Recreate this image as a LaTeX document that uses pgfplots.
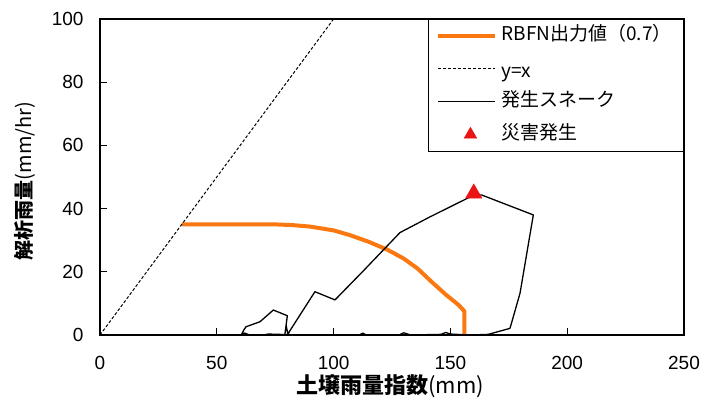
\documentclass[border=0pt]{standalone}
\usepackage{fontspec}
\setmainfont{Liberation Sans}
\newfontfamily\jp{Noto Sans CJK JP}
\usepackage{pgfplots}
\pgfplotsset{compat=1.18}
\definecolor{rbfn}{RGB}{250,120,15}
\definecolor{dred}{RGB}{235,20,20}
\pgfplotsset{
  linelegend/.style={legend image code/.code={\draw[##1] (0pt,0pt) -- (57pt,0pt);}},
  marklegend/.style={legend image code/.code={\draw[mark repeat=2,mark phase=2,##1,mark size=7pt] plot coordinates {(0pt,0pt) (32pt,0pt) (57pt,0pt)};}},
}
\begin{document}
\begin{tikzpicture}
\useasboundingbox (0,0) rectangle (705pt,398pt);
\begin{axis}[
  at={(100pt,63pt)}, anchor=south west, scale only axis,
  width=584pt, height=316pt,
  xmin=0, xmax=250, ymin=0, ymax=100,
  xtick={0,50,100,150,200,250}, ytick={0,20,40,60,80,100},
  tick align=inside, xtick pos=left, ytick pos=left,
  major tick length=7pt,
  axis line style={line width=1.3pt},
  tick style={line width=1pt, black},
  /pgf/number format/assume math mode=true,
  tick label style={font=\fontsize{19}{21}\selectfont},
  xticklabel style={yshift=-18pt},
  yticklabel style={xshift=-13pt},
  xlabel={{\jp\bfseries 土壌雨量指数}{\jp (mm)}},
  ylabel={{\jp\bfseries 解析雨量}{\jp (mm/hr)}},
  every axis x label/.style={at={(axis description cs:0.497,-0.163)}, anchor=center, font=\fontsize{22}{24}\selectfont},
  every axis y label/.style={at={(axis description cs:-0.128,0.487)}, rotate=90, anchor=center, font=\fontsize{20}{22}\selectfont},
  legend style={at={(1,1)}, anchor=north east, draw=black, line width=0.8pt, fill=white,
     inner xsep=8pt, inner ysep=0pt,
     nodes={text height=15pt, text depth=5.5pt, inner ysep=6.2pt, inner xsep=4pt},
     font=\fontsize{19}{21}\selectfont\jp},
  legend cell align=left,
  linelegend,
]
\addplot[rbfn, line width=4pt, line join=round] coordinates {
(35,35) (50,35) (65,35) (75,35) (82,34.8) (90,34.3) (100,33.1) (107,31.6)
(115,29.5) (123,27) (130,24.2) (136,21) (142,16.8) (148,12.8) (153.5,9.5) (156,7.5) (156,0)
};
\addlegendentry{RBFN出力値（0.7）}
\addplot[black, line width=1pt, dash pattern=on 3pt off 2pt] coordinates {(0,0) (100,100)};
\addlegendentry{\raisebox{-4pt}{\fontsize{19}{21}\selectfont y=x}}
\addplot[black, line width=1.3pt, line join=round] coordinates {
(60.5,0) (61.5,1.5) (62.5,2.6) (68.5,4.2) (74.2,7.9) (80.2,6.1) (79.2,0.5) (79.7,3) (80.5,0)
(81,1) (92,13.7) (100.6,11.1) (113,20.5) (128.4,32.4) (141.3,37.4) (156.3,42.9)
(160,44.3) (163.4,44.3) (185.5,38) (179.8,13.2) (175.5,2.1) (166.2,0.2) (158,0)
(150,0.3) (148,0.8) (146,0.2) (133,0) (130,0.7) (128,0) (114,0) (112.5,0.6) (111,0)
(86,0) (72,0.3) (70,0) (64,0) (62,0.6) (60,0)
};
\addlegendentry{発生スネーク}
\addplot[only marks, mark=triangle*, mark size=9.5pt, color=dred, marklegend]
  coordinates {(160,44.8)};
\addlegendentry{災害発生}
\end{axis}
\end{tikzpicture}
\end{document}
